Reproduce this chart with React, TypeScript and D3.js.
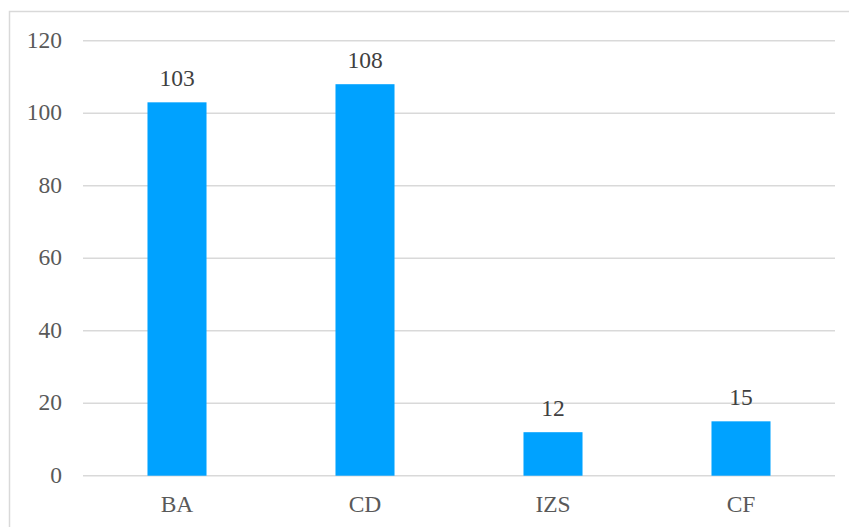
import React from "react";
import * as d3 from "d3";

const categories = ["BA", "CD", "IZS", "CF"];
const values = [103, 108, 12, 15];
const yTicks = [0, 20, 40, 60, 80, 100, 120];

const W = 849;
const H = 527;
const left = 83;
const right = 835;
const top = 40.7;
const bottom = 475.7;
const font = "Liberation Serif, DejaVu Serif, Times New Roman, serif";
const textColor = "#595959";
const barColor = "#00a2ff";

export default function App() {
  const x = d3.scaleBand<string>().domain(categories).range([left, right]).paddingInner(0.686).paddingOuter(0.343);
  const y = d3.scaleLinear().domain([0, 120]).range([bottom, top]);
  const ts = { fontFamily: font, fontSize: "23.5px" };
  return (
    <svg width={W} height={H} style={{ position: "absolute", left: 0, top: 0, background: "#fff" }}>
      <rect x={9.5} y={11.5} width={W + 10} height={H + 10} fill="#fff" stroke="#d9d9d9" strokeWidth={1.5} />
      {yTicks.map((t) => (
        <g key={t}>
          <line x1={left} x2={right} y1={y(t)} y2={y(t)} stroke="#d9d9d9" strokeWidth={1.5} />
          <text x={62} y={y(t)} dy="0.3em" textAnchor="end" style={ts} fill={textColor}>
            {t}
          </text>
        </g>
      ))}
      {categories.map((c, i) => (
        <g key={c}>
          <rect x={x(c)} y={y(values[i])} width={x.bandwidth()} height={y(0) - y(values[i])} fill={barColor} />
          <text x={(x(c) as number) + x.bandwidth() / 2} y={y(values[i]) - 16} textAnchor="middle" style={ts} fill="#404040">
            {values[i]}
          </text>
          <text x={(x(c) as number) + x.bandwidth() / 2} y={512} textAnchor="middle" style={ts} fill={textColor}>
            {c}
          </text>
        </g>
      ))}
    </svg>
  );
}
